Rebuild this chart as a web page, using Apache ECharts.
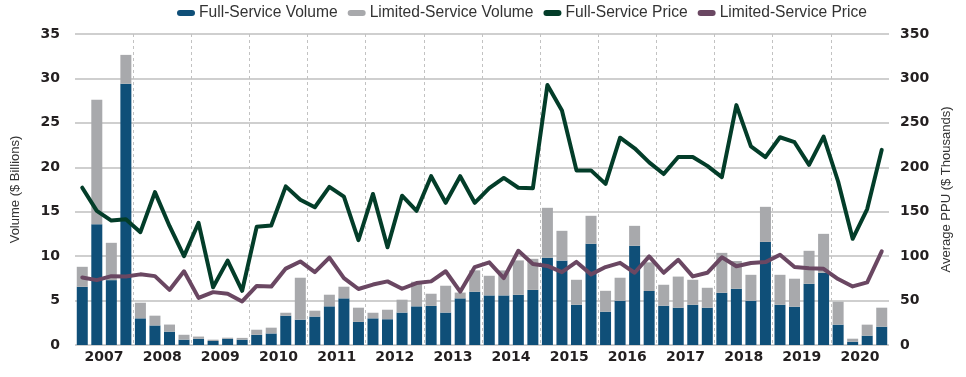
<!DOCTYPE html>
<html>
<head>
<meta charset="utf-8">
<title>Hotel Transaction Volume and Price per Unit</title>
<script src="https://cdn.jsdelivr.net/npm/echarts@6.0.0/dist/echarts.min.js"></script>
<style>
  html, body { margin: 0; padding: 0; background: #ffffff; }
  #chart { width: 966px; height: 377px; }
</style>
</head>
<body>
<div id="chart"></div>
<script>
// Quarterly periods, 2007 Q1 through 2020 Q4
const years = ['2007', '2008', '2009', '2010', '2011', '2012', '2013',
               '2014', '2015', '2016', '2017', '2018', '2019', '2020'];
const quarters = [];
years.forEach(function (y) {
  ['Q1', 'Q2', 'Q3', 'Q4'].forEach(function (q) { quarters.push(y + ' ' + q); });
});

// Transaction volume, $ billions
const fullServiceVolume = [
  6.55, 13.6, 7.3, 29.4,   3.0, 2.2, 1.5, 0.6,     0.7, 0.45, 0.7, 0.6,
  1.15, 1.3, 3.3, 2.85,    3.2, 4.35, 5.25, 2.6,   3.0, 2.9, 3.65, 4.35,
  4.4, 3.65, 5.25, 6.0,    5.58, 5.58, 5.65, 6.2,  9.82, 9.5, 4.53, 11.39,
  3.75, 4.98, 11.17, 6.08, 4.42, 4.2, 4.53, 4.2,   5.88, 6.33, 4.98, 11.6,
  4.53, 4.31, 6.89, 8.13,  2.29, 0.37, 1.05, 2.06
];
const limitedServiceVolume = [
  2.25, 14.0, 4.2, 3.25,   1.76, 1.1, 0.8, 0.55,   0.25, 0.15, 0.12, 0.2,
  0.57, 0.65, 0.33, 4.72,  0.66, 1.31, 1.31, 1.6,  0.63, 1.07, 1.45, 2.77,
  1.37, 3.02, 0.65, 2.4,   2.21, 2.81, 3.87, 3.5,  5.62, 3.35, 2.81, 3.15,
  2.35, 2.59, 2.24, 3.22,  2.36, 3.5, 2.81, 2.24,  4.49, 3.12, 2.92, 3.95,
  3.37, 3.15, 3.71, 4.38,  2.58, 0.34, 1.24, 2.14
];

// Average price per unit, $ thousands
const fullServicePrice = [
  177, 151, 140, 141.5,    127, 172, 134, 100,     137.5, 65, 95, 61,
  133, 134.5, 178.5, 163.5, 155, 178, 167, 118,    170, 110, 168, 151,
  190, 160, 190, 160,      176.5, 188, 177, 176.5, 292.6, 264, 196.5, 196.5,
  181.3, 233.3, 221.4, 205.5, 192.4, 211.5, 211.5, 201.6, 189, 270, 223.5, 211.5,
  233.8, 228.2, 202.7, 234.5, 184, 119.5, 153, 219.6
];
const limitedServicePrice = [
  76, 73, 77.5, 77,        79.5, 77.5, 62, 83,     53, 59.5, 57.7, 49,
  66.5, 65.7, 86, 94,      82, 98.3, 75.3, 63,     68, 71.6, 63.3, 69.7,
  71.6, 83, 60, 87.7,      93, 75.3, 106, 91.2,    89, 82, 93.5, 79.5,
  87.7, 92.5, 81.3, 99.7,  81.3, 95.9, 77.2, 81.3, 98.7, 88.7, 92.2, 93.3,
  101.5, 87.7, 86.5, 85.8, 74.2, 65.9, 70.4, 105.3
];

// Axis scales and tick steps
const volumeAxis = { min: 0, max: 35, interval: 5 };
const priceAxis = { min: 0, max: 350, interval: 50 };

const COLORS = {
  fsVolume: '#0f4f78',
  lsVolume: '#a8a9ac',
  fsPrice: '#033d29',
  lsPrice: '#6a4762'
};

const baseFont = "'Liberation Sans', Arial, sans-serif";
const tickFont = "'DejaVu Sans', sans-serif";

const chart = echarts.init(document.getElementById('chart'), null, { renderer: 'canvas' });

chart.setOption({
  animation: false,
  backgroundColor: '#ffffff',
  legend: {
    left: 172,
    top: 0,
    itemWidth: 18,
    itemHeight: 6,
    itemGap: 10,
    icon: 'path://M3,0 H15 A3,3 0 0 1 15,6 H3 A3,3 0 0 1 3,0 Z',
    textStyle: { fontFamily: baseFont, fontSize: 15.6, color: '#333333', padding: [0, 0, 0, -1] },
    data: ['Full-Service Volume', 'Limited-Service Volume', 'Full-Service Price', 'Limited-Service Price']
  },
  grid: { left: 75, right: 77, top: 34, bottom: 32, containLabel: false },
  xAxis: [
    {
      type: 'category',
      data: quarters,
      position: 'bottom',
      boundaryGap: true,
      axisLine: { show: false },
      axisTick: { show: false },
      axisLabel: { show: false },
      splitLine: { show: false }
    },
    {
      type: 'category',
      data: years,
      position: 'bottom',
      boundaryGap: true,
      axisLine: { show: false },
      axisTick: { show: false },
      axisLabel: {
        interval: 0,
        margin: 5,
        fontFamily: tickFont,
        fontWeight: 'bold',
        fontSize: 14,
        color: '#231f20'
      },
      splitLine: {
        show: true,
        interval: 0,
        showMinLine: false,
        showMaxLine: false,
        lineStyle: { color: '#c2c2c2', width: 1, type: [3, 3] }
      }
    }
  ],
  yAxis: [
    {
      type: 'value',
      position: 'left',
      min: volumeAxis.min,
      max: volumeAxis.max,
      interval: volumeAxis.interval,
      name: 'Volume ($ Billions)',
      nameLocation: 'middle',
      nameRotate: 90,
      nameGap: 53,
      nameTextStyle: { fontFamily: baseFont, fontSize: 13, color: '#333333' },
      axisLine: { show: false },
      axisTick: { show: false },
      axisLabel: {
        margin: 15,
        fontFamily: tickFont,
        fontWeight: 'bold',
        fontSize: 14,
        color: '#231f20'
      },
      splitLine: { show: true, lineStyle: { color: '#cfcfcf', width: 2 } }
    },
    {
      type: 'value',
      position: 'right',
      min: priceAxis.min,
      max: priceAxis.max,
      interval: priceAxis.interval,
      name: 'Average PPU ($ Thousands)',
      nameLocation: 'middle',
      nameRotate: 90,
      nameGap: 50,
      nameTextStyle: { fontFamily: baseFont, fontSize: 13, color: '#333333' },
      axisLine: { show: false },
      axisTick: { show: false },
      axisLabel: {
        margin: 11,
        fontFamily: tickFont,
        fontWeight: 'bold',
        fontSize: 14,
        color: '#231f20'
      },
      splitLine: { show: false }
    }
  ],
  series: [
    {
      name: 'Full-Service Volume',
      type: 'bar',
      stack: 'volume',
      xAxisIndex: 0,
      yAxisIndex: 0,
      barWidth: 11,
      itemStyle: { color: COLORS.fsVolume },
      data: fullServiceVolume,
      z: 2
    },
    {
      name: 'Limited-Service Volume',
      type: 'bar',
      stack: 'volume',
      xAxisIndex: 0,
      yAxisIndex: 0,
      barWidth: 11,
      itemStyle: { color: COLORS.lsVolume },
      data: limitedServiceVolume,
      z: 2
    },
    {
      name: 'Full-Service Price',
      type: 'line',
      xAxisIndex: 0,
      yAxisIndex: 1,
      symbol: 'none',
      itemStyle: { color: COLORS.fsPrice },
      lineStyle: { color: COLORS.fsPrice, width: 4, cap: 'round', join: 'round' },
      data: fullServicePrice,
      z: 4
    },
    {
      name: 'Limited-Service Price',
      type: 'line',
      xAxisIndex: 0,
      yAxisIndex: 1,
      symbol: 'none',
      itemStyle: { color: COLORS.lsPrice },
      lineStyle: { color: COLORS.lsPrice, width: 4, cap: 'round', join: 'round' },
      data: limitedServicePrice,
      z: 3
    }
  ]
});
</script>
</body>
</html>
